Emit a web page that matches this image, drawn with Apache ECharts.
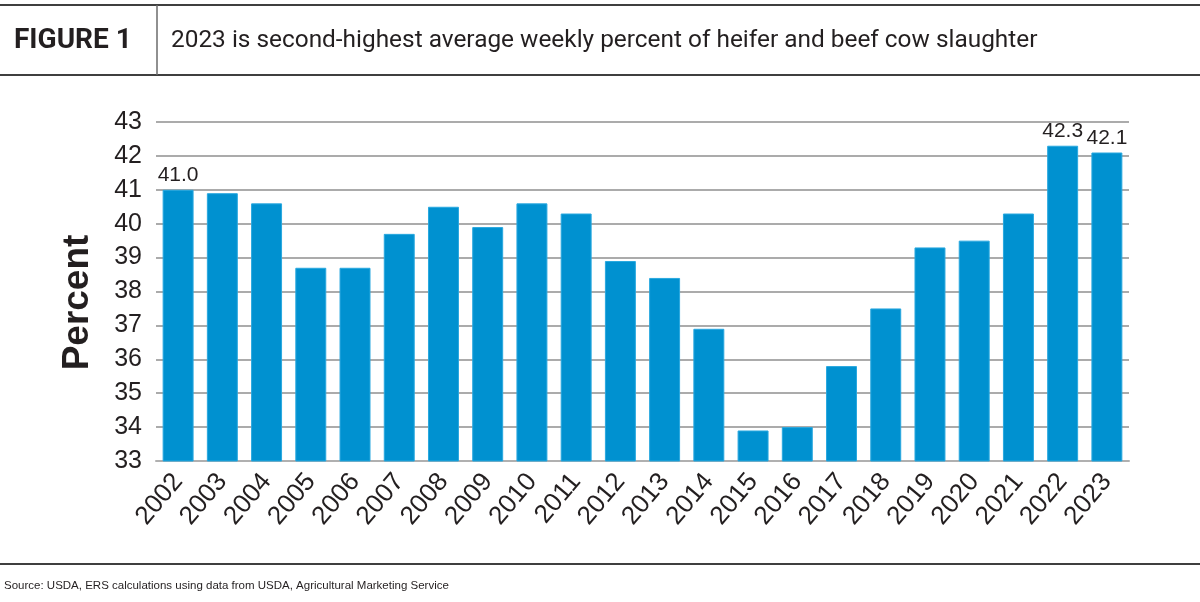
<!DOCTYPE html>
<html>
<head>
<meta charset="utf-8">
<title>Figure 1</title>
<script src="https://cdn.jsdelivr.net/npm/echarts@6/dist/echarts.min.js"></script>
<style>
  html, body { margin: 0; padding: 0; background: #fff; }
  #chart { width: 1200px; height: 602px; }
</style>
</head>
<body>
<div id="chart"></div>
<script>
// data
const years = ['2002', '2003', '2004', '2005', '2006', '2007', '2008', '2009', '2010', '2011', '2012',
  '2013', '2014', '2015', '2016', '2017', '2018', '2019', '2020', '2021', '2022', '2023']
const percents = [41.0, 40.9, 40.6, 38.7, 38.7, 39.7, 40.5, 39.9, 40.6, 40.3, 38.9,
  38.4, 36.9, 33.9, 34.0, 35.8, 37.5, 39.3, 39.5, 40.3, 42.3, 42.1]
const labelledYears = ['2002', '2022', '2023']
const yTicks = { min: 33, max: 43, interval: 1 }

const sans = '"Liberation Sans", Arial, sans-serif'
const ink = '#231f20'
const rule = '#3f3f3f'
const barBlue = '#0091d0'

const chart = echarts.init(document.getElementById('chart'))

const barData = percents.map((v, i) => {
  const item = { value: v }
  if (labelledYears.includes(years[i])) {
    item.label = { show: true }
  }
  return item
})

chart.setOption({
  animation: false,
  backgroundColor: '#fff',
  title: [{
    text: 'FIGURE 1',
    left: 14,
    top: 27,
    padding: 0,
    textStyle: { fontFamily: 'Roboto, sans-serif', fontWeight: 'bold', fontSize: 28, color: ink }
  }, {
    text: '2023 is second-highest average weekly percent of heifer and beef cow slaughter',
    left: 171,
    top: 29,
    padding: 0,
    textStyle: { fontFamily: 'Roboto, sans-serif', fontWeight: 'normal', fontSize: 24.4, color: ink }
  }, {
    text: 'Source: USDA, ERS calculations using data from USDA, Agricultural Marketing Service',
    left: 4,
    top: 580,
    padding: 0,
    textStyle: { fontFamily: sans, fontWeight: 'normal', fontSize: 11.5, color: ink }
  }],
  graphic: [
    { type: 'line', shape: { x1: 0, y1: 5, x2: 1200, y2: 5 }, style: { stroke: rule, lineWidth: 2 } },
    { type: 'line', shape: { x1: 0, y1: 75, x2: 1200, y2: 75 }, style: { stroke: rule, lineWidth: 2 } },
    { type: 'line', shape: { x1: 157, y1: 5, x2: 157, y2: 75 }, style: { stroke: '#6b6b6b', lineWidth: 1.5 } },
    { type: 'line', shape: { x1: 0, y1: 564, x2: 1200, y2: 564 }, style: { stroke: rule, lineWidth: 2 } }
  ],
  grid: { left: 156, right: 71, top: 122, bottom: 141 },
  xAxis: {
    type: 'category',
    data: years,
    axisLine: { show: true, lineStyle: { color: '#b0b0b0', width: 2 } },
    axisTick: { show: false },
    axisLabel: {
      interval: 0,
      rotate: 50,
      margin: 16,
      fontFamily: sans,
      fontSize: 26,
      color: ink
    }
  },
  yAxis: {
    type: 'value',
    min: yTicks.min,
    max: yTicks.max,
    interval: yTicks.interval,
    name: 'Percent',
    nameLocation: 'middle',
    nameGap: 60,
    nameTextStyle: { fontFamily: sans, fontWeight: 'bold', fontSize: 37, color: ink, padding: [0, 22, 0, 0] },
    axisLine: { show: false },
    axisTick: { show: false },
    axisLabel: { margin: 14, fontFamily: sans, fontSize: 25, color: ink },
    splitLine: { lineStyle: { color: '#ababab', width: 2 } }
  },
  series: [{
    type: 'bar',
    data: barData,
    barCategoryGap: '30%',
    itemStyle: { color: barBlue, borderColor: '#29a8df', borderWidth: 1 },
    label: {
      show: false,
      position: 'top',
      distance: 4,
      formatter: (p) => p.value.toFixed(1),
      fontFamily: sans,
      fontSize: 21,
      color: ink
    }
  }]
})
</script>
</body>
</html>
